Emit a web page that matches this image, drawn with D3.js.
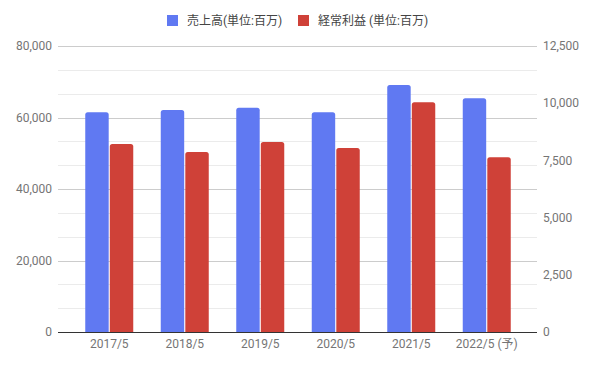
<!DOCTYPE html>
<html><head><meta charset="utf-8">
<script src="https://cdn.jsdelivr.net/npm/d3@7/dist/d3.min.js"></script>
<style>
body{margin:0;background:#fff;}
svg{display:block;font-family:Roboto, Arial, "Noto Sans CJK JP", sans-serif;}
</style></head><body>
<svg id="chart" width="594" height="368"></svg>
<script>
const categories = ["2017/5","2018/5","2019/5","2020/5","2021/5","2022/5 (予)"];
const sales = [61500, 62100, 62700, 61500, 69100, 65400];
const ordinaryProfit = [8220, 7870, 8300, 8040, 10040, 7640];
const seriesNames = ["売上高(単位:百万)", "経常利益 (単位:百万)"];
const seriesColors = ["#6079f2", "#cf4138"];
const leftTicks = [0, 20000, 40000, 60000, 80000];
const rightTicks = [0, 2500, 5000, 7500, 10000, 12500];

const svg = d3.select("#chart");
const plot = {left:58, right:537, top:46, bottom:332};

const yL = d3.scaleLinear().domain([0,80000]).range([plot.bottom, plot.top]);
const yR = d3.scaleLinear().domain([0,12500]).range([plot.bottom, plot.top]);
const x = d3.scaleBand().domain(categories).range([71.5, 524.5]).paddingInner(0).paddingOuter(0);
const inner = d3.scaleBand().domain([0,1]).range([-24, 24]).paddingInner(0.045);

// minor gridlines
const minorTicks = d3.range(0, 80001, 20000/3).filter(v => !leftTicks.some(t => Math.abs(t - v) < 1));
svg.append("g").selectAll("line").data(minorTicks).join("line")
  .attr("x1", plot.left).attr("x2", plot.right)
  .attr("y1", d => Math.round(yL(d))+0.5).attr("y2", d => Math.round(yL(d))+0.5)
  .attr("stroke", "#ebebeb");
// major gridlines
svg.append("g").selectAll("line").data(leftTicks.filter(d=>d>0)).join("line")
  .attr("x1", plot.left).attr("x2", plot.right)
  .attr("y1", d => Math.round(yL(d))+0.5).attr("y2", d => Math.round(yL(d))+0.5)
  .attr("stroke", "#cccccc");

// left axis labels
const fmt = d3.format(",");
svg.append("g").selectAll("text").data(leftTicks).join("text")
  .attr("x", 52).attr("y", d => yL(d)).attr("dy", "0.35em")
  .attr("text-anchor", "end").attr("fill", "#757575").attr("font-size", 12)
  .text(d => fmt(d));
// right axis labels
svg.append("g").selectAll("text").data(rightTicks).join("text")
  .attr("x", 543).attr("y", d => yR(d)).attr("dy", "0.35em")
  .attr("text-anchor", "start").attr("fill", "#757575").attr("font-size", 12)
  .text(d => fmt(d));

// bars
function barPath(x0, y0, w, h, r) {
  r = Math.min(r, h, w/2);
  return `M${x0},${y0+h}V${y0+r}Q${x0},${y0} ${x0+r},${y0}H${x0+w-r}Q${x0+w},${y0} ${x0+w},${y0+r}V${y0+h}Z`;
}
const groups = svg.append("g").selectAll("g").data(categories).join("g")
  .attr("transform", d => `translate(${x(d) + x.bandwidth()/2},0)`);
groups.append("path")
  .attr("d", (d,i) => barPath(inner(0), yL(sales[i]), inner.bandwidth(), plot.bottom - yL(sales[i]), 2.5))
  .attr("fill", seriesColors[0]);
groups.append("path")
  .attr("d", (d,i) => barPath(inner(1), yR(ordinaryProfit[i]), inner.bandwidth(), plot.bottom - yR(ordinaryProfit[i]), 2.5))
  .attr("fill", seriesColors[1]);

// baseline
svg.append("line").attr("x1", plot.left).attr("x2", plot.right)
  .attr("y1", plot.bottom+0.5).attr("y2", plot.bottom+0.5).attr("stroke", "#333333");

// x labels
svg.append("g").selectAll("text").data(categories).join("text")
  .attr("x", d => x(d) + x.bandwidth()/2).attr("y", 347.5)
  .attr("text-anchor", "middle").attr("fill", "#757575").attr("font-size", 12)
  .text(d => d);

// legend
const legend = svg.append("g");
const legX = [167, 298];
seriesNames.forEach((name, i) => {
  legend.append("rect").attr("x", legX[i]).attr("y", 15).attr("width", 11).attr("height", 11)
    .attr("fill", seriesColors[i]);
  legend.append("text").attr("x", legX[i] + 20).attr("y", 20.5).attr("dy", "0.35em")
    .attr("fill", "#444").attr("font-size", 12).text(name);
});
</script>
</body></html>
